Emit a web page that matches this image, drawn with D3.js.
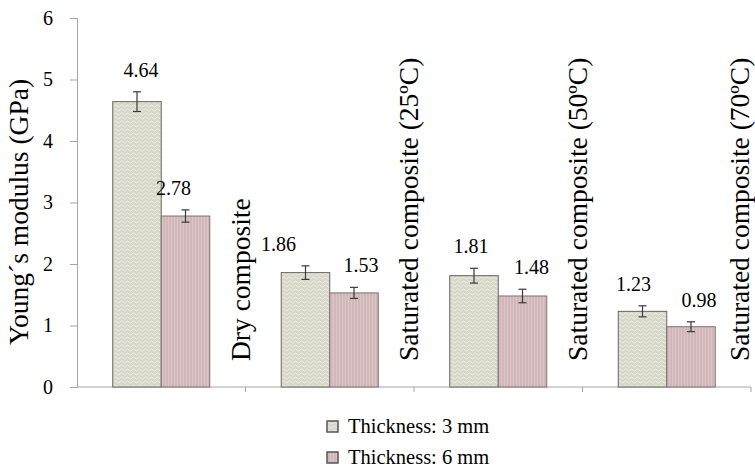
<!DOCTYPE html>
<html>
<head>
<meta charset="utf-8">
<script src="https://cdn.jsdelivr.net/npm/d3@7/dist/d3.min.js"></script>
<style>
  body { margin: 0; background: #fff; }
  svg text { font-family: "Liberation Serif", "DejaVu Serif", "Times New Roman", Times, serif !important; fill: #000; }
  .axis path, .axis line { stroke: #a6a6a6; }
</style>
</head>
<body>
<div id="chart"></div>
<script>
// data
var categories = ["Dry composite", "Saturated composite (25ºC)", "Saturated composite (50ºC)", "Saturated composite (70ºC)"];
var series = ["Thickness: 3 mm", "Thickness: 6 mm"];
var thin = [4.64, 1.86, 1.81, 1.23];
var thick = [2.78, 1.53, 1.48, 0.98];
var thinErr = [0.16, 0.11, 0.12, 0.09];
var thickErr = [0.10, 0.09, 0.11, 0.08];
var yTicks = [0, 1, 2, 3, 4, 5, 6];

// label nudges (the original labels were hand placed)
var labelDx = [[4, -12], [-27, 7], [-3, 9], [-9, 8]];

var serif = '"Liberation Serif", "DejaVu Serif", "Times New Roman", serif';

var svg = d3.select("#chart")
  .append("svg")
  .attr("width", 755)
  .attr("height", 471)
  .attr("font-family", serif);

var defs = svg.append("defs");

var p1 = defs.append("pattern")
  .attr("id", "wave")
  .attr("patternUnits", "userSpaceOnUse")
  .attr("width", 6)
  .attr("height", 4);
p1.append("rect").attr("width", 6).attr("height", 4).attr("fill", "#d6d7c9");
p1.append("path")
  .attr("d", "M0,2 L1.5,1 L3,2 L4.5,3 L6,2")
  .attr("fill", "none")
  .attr("stroke", "#eeeee6")
  .attr("stroke-width", 1);

var p2 = defs.append("pattern")
  .attr("id", "stripe")
  .attr("patternUnits", "userSpaceOnUse")
  .attr("width", 3)
  .attr("height", 4);
p2.append("rect").attr("width", 3).attr("height", 4).attr("fill", "#d1b7ba");
p2.append("rect").attr("width", 1).attr("height", 4).attr("fill", "#dac5c7");

var fills = ["url(#wave)", "url(#stripe)"];
var strokes = ["#65655c", "#7c7272"];

var x = d3.scaleBand()
  .domain(categories)
  .range([77, 751]);

var x1 = d3.scaleBand()
  .domain(series)
  .range([0, x.bandwidth()])
  .paddingOuter(0.737);

var y = d3.scaleLinear()
  .domain([0, 6])
  .range([387, 18]);

// y axis
var yAxis = svg.append("g")
  .attr("class", "axis")
  .attr("transform", "translate(77,0)")
  .call(d3.axisLeft(y).tickValues(yTicks).tickSize(7).tickPadding(17).tickFormat(d3.format("d")));
yAxis.attr("font-family", serif);
yAxis.selectAll("text").style("font-size", "20px");

// x axis, tick marks only at category boundaries
var xg = svg.append("g").attr("class", "axis");
xg.append("line")
  .attr("x1", 77).attr("x2", 751)
  .attr("y1", y(0)).attr("y2", y(0));
xg.selectAll(".xt")
  .data(categories)
  .enter().append("line")
  .attr("class", "xt")
  .attr("x1", function(d) { return x(d) + x.bandwidth(); })
  .attr("x2", function(d) { return x(d) + x.bandwidth(); })
  .attr("y1", y(0))
  .attr("y2", y(0) + 5);

var rows = categories.map(function(c, i) {
  return [
    { cat: c, s: series[0], v: thin[i], e: thinErr[i], k: 0, dx: labelDx[i][0] },
    { cat: c, s: series[1], v: thick[i], e: thickErr[i], k: 1, dx: labelDx[i][1] }
  ];
});
var flat = [].concat.apply([], rows);

var groups = svg.append("g");

groups.selectAll("rect.bar")
  .data(flat)
  .enter().append("rect")
  .attr("class", "bar")
  .attr("x", function(d) { return x(d.cat) + x1(d.s); })
  .attr("y", function(d) { return y(d.v); })
  .attr("width", x1.bandwidth())
  .attr("height", function(d) { return y(0) - y(d.v); })
  .attr("fill", function(d) { return fills[d.k]; })
  .attr("stroke", function(d) { return strokes[d.k]; })
  .attr("stroke-width", 1);

// error bars
var eb = groups.selectAll("g.err")
  .data(flat)
  .enter().append("g")
  .attr("class", "err")
  .attr("transform", function(d) { return "translate(" + (x(d.cat) + x1(d.s) + x1.bandwidth() / 2) + ",0)"; })
  .attr("stroke", "#3a3a3a")
  .attr("stroke-width", 1.2);
eb.append("line")
  .attr("y1", function(d) { return y(d.v + d.e); })
  .attr("y2", function(d) { return y(d.v - d.e); });
eb.append("line")
  .attr("x1", -4).attr("x2", 4)
  .attr("y1", function(d) { return y(d.v + d.e); })
  .attr("y2", function(d) { return y(d.v + d.e); });
eb.append("line")
  .attr("x1", -4).attr("x2", 4)
  .attr("y1", function(d) { return y(d.v - d.e); })
  .attr("y2", function(d) { return y(d.v - d.e); });

// value labels
groups.selectAll("text.val")
  .data(flat)
  .enter().append("text")
  .attr("class", "val")
  .attr("x", function(d) { return x(d.cat) + x1(d.s) + x1.bandwidth() / 2 + d.dx; })
  .attr("y", function(d) { return y(d.v + d.e) - 15; })
  .attr("text-anchor", "middle")
  .style("font-size", "20px")
  .text(function(d) { return d.v.toFixed(2); });

// category labels, rotated, at the right edge of each band
svg.selectAll("text.cat")
  .data(categories)
  .enter().append("text")
  .attr("class", "cat")
  .attr("transform", function(d) { return "translate(" + Math.min(x(d) + x.bandwidth() + 4, 749) + ",361) rotate(-90)"; })
  .style("font-size", "27.5px")
  .text(function(d) { return d; });

// y title
svg.append("text")
  .attr("transform", "translate(28,345) rotate(-90)")
  .style("font-size", "27.5px")
  .text("Young´s modulus (GPa)");

// legend
var lg = svg.append("g").selectAll("g")
  .data(series)
  .enter().append("g")
  .attr("transform", function(d, i) { return "translate(327," + (421 + i * 31) + ")"; });
lg.append("rect")
  .attr("width", 11)
  .attr("height", 11)
  .attr("fill", function(d, i) { return fills[i]; })
  .attr("stroke", "#555")
  .attr("stroke-width", 1.5);
lg.append("text")
  .attr("x", 21)
  .attr("y", 12)
  .style("font-size", "20.5px")
  .text(function(d) { return d; });
</script>
</body>
</html>
